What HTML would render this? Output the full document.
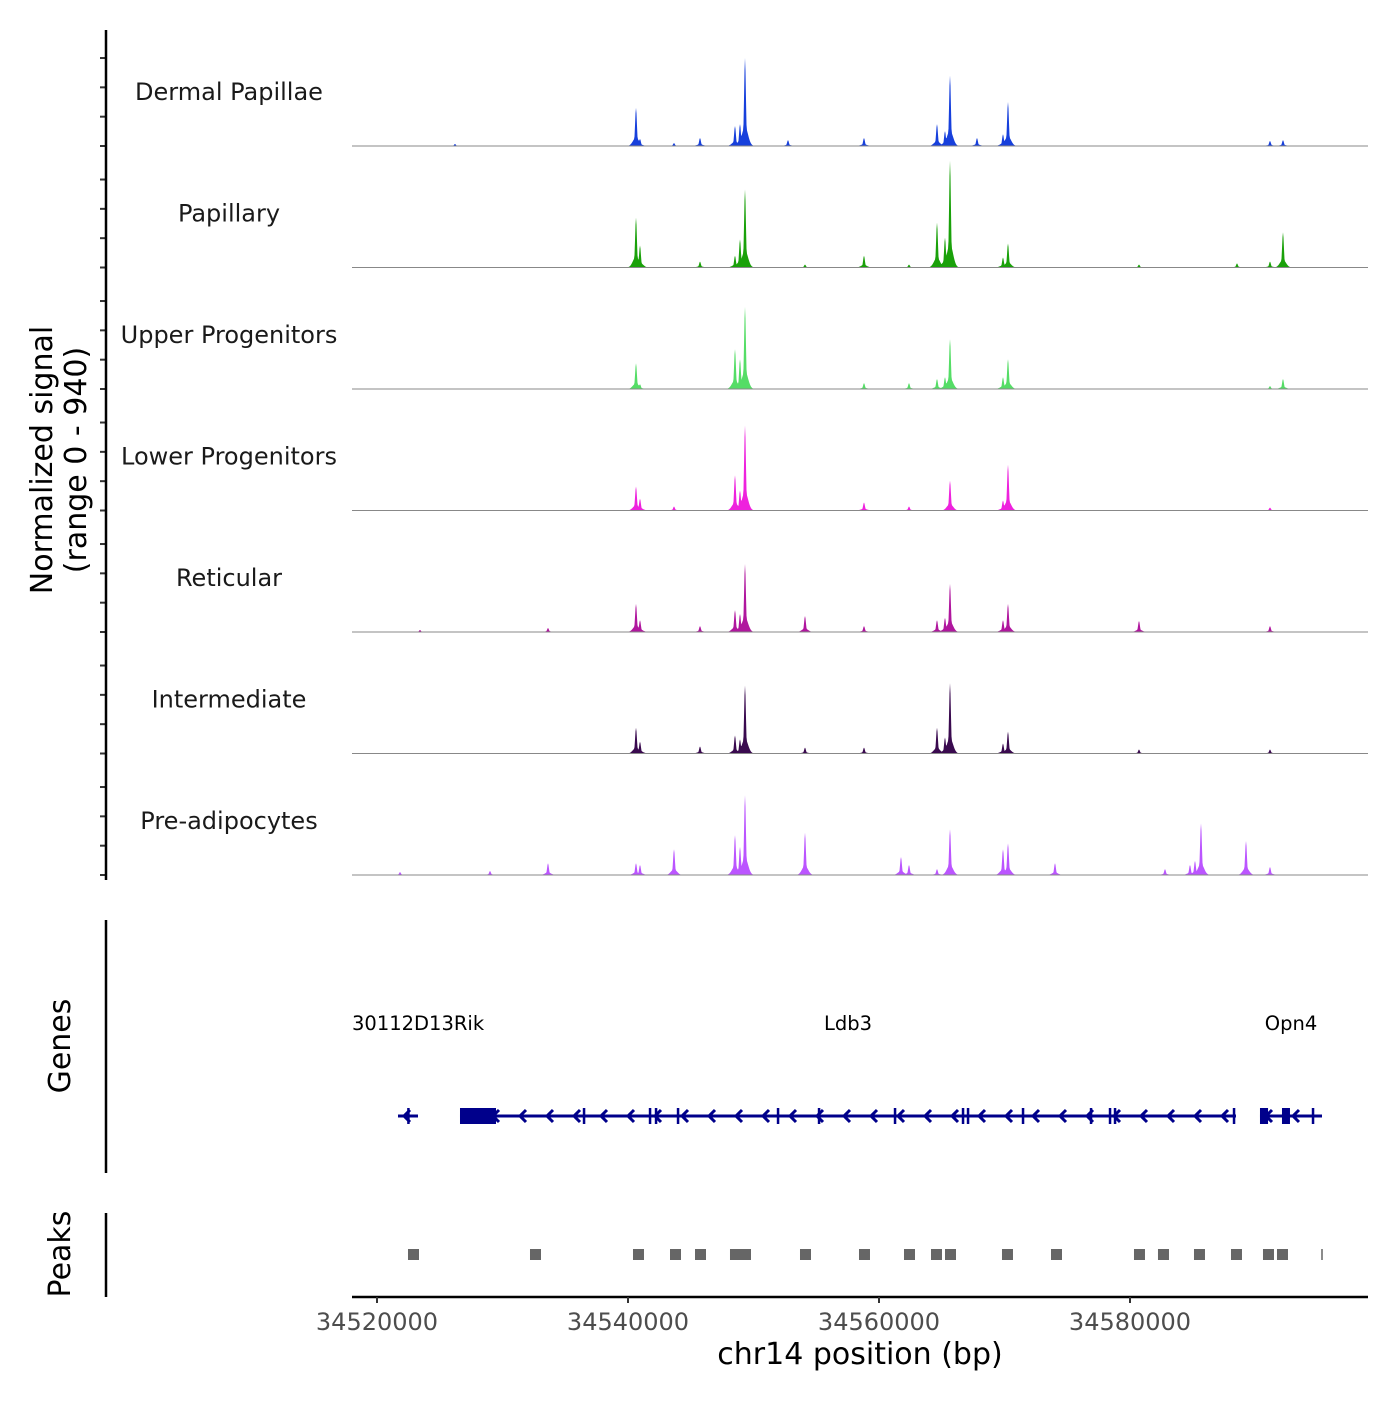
<!DOCTYPE html>
<html><head><meta charset="utf-8"><style>
html,body{margin:0;padding:0;background:#fff;}
svg text{font-family:"DejaVu Sans","Liberation Sans",sans-serif;}
</style></head><body>
<svg id="chart" width="1400" height="1400" viewBox="0 0 1400 1400" xmlns="http://www.w3.org/2000/svg">
<rect width="1400" height="1400" fill="#fff"/>
<g id="tracks"></g>
<g id="genes"></g>
<g id="peaks"></g>
<g id="axes"></g>
</svg>
<script>
const trackNames = ["Dermal Papillae","Papillary","Upper Progenitors","Lower Progenitors","Reticular","Intermediate","Pre-adipocytes"];
const trackColors = ["#1740dc","#1aa10a","#55dd66","#ee22dd","#b0169e","#3a0a4f","#bb55ff"];
const peakPos = [34521833,34523426,34526215,34529004,34533625,34540637,34540956,34543665,34545737,34548525,34548924,34549322,34552748,34554103,34558804,34561752,34562390,34564621,34565258,34565657,34567808,34569880,34570278,34574023,34580716,34582788,34584780,34585178,34585656,34588525,34589242,34591154,34592190];
const sigDermal   = [0,0,17,0,0,325,60,25,68,170,187,750,50,0,68,0,0,187,127,600,68,100,375,0,0,0,0,0,0,0,0,43,50];
const sigPapillary= [0,0,0,0,0,425,187,0,50,100,240,665,0,25,100,0,25,383,255,910,0,85,205,0,25,0,0,0,0,35,0,50,300];
const sigUpper    = [0,0,0,0,0,220,40,0,0,340,255,700,0,0,50,0,50,85,100,425,0,100,255,0,0,0,0,0,0,0,0,25,85];
const sigLower    = [0,0,0,0,0,205,100,34,0,300,170,725,0,0,68,0,34,0,0,255,0,85,390,0,0,0,0,0,0,0,0,25,0];
const sigReticular= [0,17,0,0,34,240,100,0,50,187,153,580,0,136,50,0,0,100,120,410,0,100,240,0,94,0,0,0,0,0,0,50,0];
const sigInterm   = [0,0,0,0,0,220,100,0,60,153,120,580,0,50,50,0,0,220,136,600,0,85,187,0,34,0,0,0,0,0,0,34,0];
const sigPreadipo = [25,0,0,34,100,100,85,220,0,340,240,680,0,360,0,153,85,50,0,390,0,220,270,100,0,50,85,120,440,0,290,68,0];
const trackSignals = [sigDermal,sigPapillary,sigUpper,sigLower,sigReticular,sigInterm,sigPreadipo];
const xTicks = [34520000,34540000,34560000,34580000];
const xTickLabels = ["34520000","34540000","34560000","34580000"];
const yTickVals = [0,250,500,750];
const peakRegions = [34522868,34532589,34540796,34543745,34545737,34548525,34549322,34554103,34558804,34562390,34564541,34565657,34570198,34574103,34580716,34582628,34585497,34588445,34590995,34592110];
const geneNames = ["30112D13Rik","Ldb3","Opn4"];
const geneStarts = [34521673,34526613,34590357];
const geneEnds = [34523267,34588445,34595298];
const thickStarts = [34526613,34590357,34592110];
const thickEnds = [34529482,34591000,34592747];
const exonPos = [34522500,34536494,34541753,34542231,34543984,34551952,34555219,34561274,34566692,34567091,34571473,34576892,34578405,34578804,34588286,34594580];

const NS="http://www.w3.org/2000/svg";
const X0=352,X1=1368,BP0=34518008,BP1=34598964;
const xs=bp=>X0+(bp-BP0)/(BP1-BP0)*(X1-X0);
const PXU=0.1173;
const baselines=[146,267.5,389,510.5,632,753.5,875];
function mk(tag,attrs,parent){const e=document.createElementNS(NS,tag);for(const k in attrs)e.setAttribute(k,attrs[k]);parent.appendChild(e);return e;}
const gT=document.getElementById('tracks'),gG=document.getElementById('genes'),gP=document.getElementById('peaks'),gA=document.getElementById('axes');

trackSignals.forEach((sig,ti)=>{
  const b=baselines[ti];
  let d=`M${X0},${b}`;
  for(let px=X0;px<=X1;px+=0.5){
    let v=0;
    peakPos.forEach((p,i)=>{const h=sig[i];if(!h)return;const dx=px-xs(p);
      v=Math.max(v,h*Math.exp(-(dx*dx)/1.6),h*0.22*Math.exp(-(dx*dx)/18));});
    d+=`L${px},${(b-v*PXU).toFixed(2)}`;
  }
  d+=`L${X1},${b}Z`;
  const path=mk('path',{d:d,fill:trackColors[ti],stroke:'none'},gT);
  
  
  const bl=mk('line',{x1:X0,x2:X1,y1:b,y2:b,stroke:'#888','stroke-width':1},gT);
  
  
  const t=mk('text',{x:229,y:b-46,'text-anchor':'middle','font-size':24,fill:'#1a1a1a'},gT);
  t.textContent=trackNames[ti];
  
  
  yTickVals.forEach(v=>{const y=b-v*PXU;
    const tk=mk('line',{x1:100,x2:106,y1:y,y2:y,stroke:'#333','stroke-width':2},gA);
    
    });
});

// genes
const GY=1116;
geneNames.forEach((n,i)=>{
  const a=xs(geneStarts[i]),bb=xs(geneEnds[i]);
  const l=mk('line',{x1:a,x2:bb,y1:GY,y2:GY,stroke:'#00008b','stroke-width':3},gG);
  
  
  for(let x=a+6;x<bb-4;x+=27){
    const c=mk('path',{d:`M${x+6},${GY-6}L${x},${GY}L${x+6},${GY+6}`,fill:'none',stroke:'#00008b','stroke-width':3},gG);
    
    
  }
  const tx=i===0?X0:(i===1?848:1291);
  const t=mk('text',{x:tx,y:1030,'text-anchor':i===0?'start':'middle','font-size':19.5,fill:'#000'},gG);
  t.textContent=n;
  
  
});
thickStarts.forEach((s,i)=>{
  const r=mk('rect',{x:xs(s),y:GY-8,width:xs(thickEnds[i])-xs(s),height:16,fill:'#00008b'},gG);
  
  
});
exonPos.forEach(p=>{
  const r=mk('rect',{x:xs(p)-1.2,y:GY-8,width:2.5,height:16,fill:'#00008b'},gG);
  
  
});
// peaks
peakRegions.forEach(p=>{
  const r=mk('rect',{x:xs(p)-5,y:1249,width:11,height:11,fill:'#666'},gP);
  
  
});
const pl=mk('line',{x1:1322,x2:1322,y1:1249,y2:1260,stroke:'#666','stroke-width':1.5},gP);



// axes
[[30,880],[920,1173],[1213,1297]].forEach(([a,b])=>{
  const l=mk('line',{x1:106,x2:106,y1:a,y2:b,stroke:'#000','stroke-width':2.5},gA);
  
  
});
const xl=mk('line',{x1:X0,x2:X1,y1:1297,y2:1297,stroke:'#000','stroke-width':2.5},gA);


xTicks.forEach((v,i)=>{
  const x=xs(v);
  const tk=mk('line',{x1:x,x2:x,y1:1297,y2:1303,stroke:'#333','stroke-width':2},gA);
  
  
  const t=mk('text',{x:x,y:1330,'text-anchor':'middle','font-size':24,fill:'#4d4d4d'},gA);
  t.textContent=xTickLabels[i];
  
  
});
const xt=mk('text',{x:860,y:1364,'text-anchor':'middle','font-size':30,fill:'#000'},gA);
xt.textContent="chr14 position (bp)";


[["Normalized signal",52],["(range 0 - 940)",86]].forEach(([s,x])=>{
  const t=mk('text',{x:x,y:460,'text-anchor':'middle','font-size':30,fill:'#000',transform:`rotate(-90 ${x} 460)`},gA);
  t.textContent=s;
  
  
});
[["Genes",1046],["Peaks",1254]].forEach(([s,y])=>{
  const t=mk('text',{x:70,y:y,'text-anchor':'middle','font-size':30,fill:'#000',transform:`rotate(-90 70 ${y})`},gA);
  t.textContent=s;
  
  
});
</script>
</body></html>
